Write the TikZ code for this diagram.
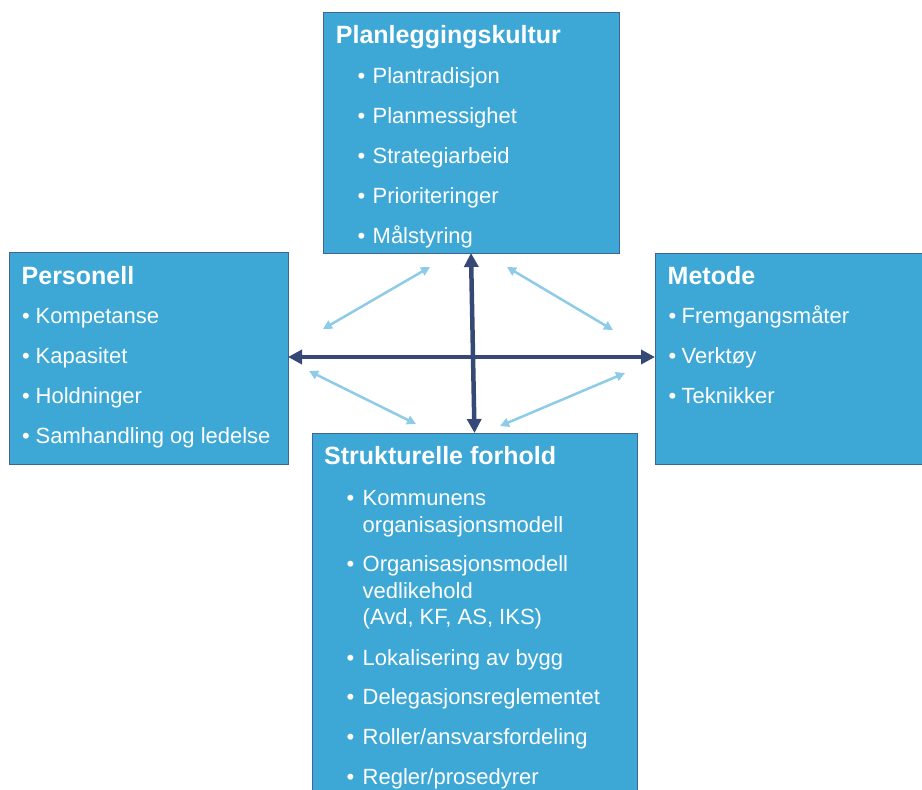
\documentclass[tikz,border=0pt]{standalone}
\usepackage{fontspec}
\setmainfont{Liberation Sans}
\usetikzlibrary{arrows.meta}
\definecolor{boxfill}{RGB}{61,168,214}
\definecolor{boxline}{RGB}{65,100,150}
\definecolor{darkarr}{RGB}{54,72,118}
\definecolor{lightarr}{RGB}{141,203,232}
\newcommand\bul[1]{\makebox[#1][l]{•}}
\begin{document}
\begin{tikzpicture}[x=1pt,y=-1pt,
 box/.style={draw=boxline, line width=1pt, fill=boxfill, inner sep=0pt, outer sep=0pt},
 ttl/.style={anchor=base west, inner sep=0pt, text=white, font=\fontsize{25}{30}\selectfont\bfseries},
 itm/.style={anchor=base west, inner sep=0pt, text=white, font=\fontsize{22}{26}\selectfont},
 bigarr/.style={draw=darkarr, line width=4.5pt, {Triangle[length=14pt,width=14pt]}-{Triangle[length=14pt,width=14pt]}},
 smallarr/.style={draw=lightarr, line width=2.5pt, {Triangle[length=9pt,width=9pt]}-{Triangle[length=9pt,width=9pt]}}]
\useasboundingbox (0,0) rectangle (922,790);
\clip (0,0) rectangle (922,790);

% boxes
\node[box, minimum width=296pt, minimum height=241pt] (plan) at (471,132.5) {};
\node[box, minimum width=279pt, minimum height=212pt] (pers) at (148.5,358) {};
\node[box, minimum width=275pt, minimum height=211pt] (met) at (792.5,358.5) {};
\node[box, minimum width=325pt, minimum height=367pt] (str) at (474.5,616.5) {};

% dark arrows
\draw[bigarr] (pers.east |- 0,357) -- (met.west |- 0,357);
\draw[bigarr] (plan.south) -- (str.north);

% light arrows
\coordinate (ula) at (430,267); \coordinate (ulb) at (323,329);
\coordinate (ura) at (507,267); \coordinate (urb) at (613,330);
\coordinate (lla) at (309,371); \coordinate (llb) at (416,424);
\coordinate (lra) at (625,373); \coordinate (lrb) at (500,426);
\draw[smallarr] (ula) -- (ulb);
\draw[smallarr] (ura) -- (urb);
\draw[smallarr] (lla) -- (llb);
\draw[smallarr] (lra) -- (lrb);

% top box text
\node[ttl] (plant) at (335.7,43) {Planleggingskultur};
\foreach \t [count=\i, evaluate=\i as \yy using 43+40*\i] in {Plantradisjon, Planmessighet, Strategiarbeid, Prioriteringer, Målstyring}
  {\node[itm] (pk\i) at (357.5,\yy) {\bul{15pt}\t};}

% left box text
\node[ttl] (perst) at (21.5,284.3) {Personell};
\foreach \t [count=\i, evaluate=\i as \yy using 283.3+40*\i] in {Kompetanse, Kapasitet, Holdninger, Samhandling og ledelse}
  {\node[itm] (pe\i) at (22,\yy) {\bul{13.5pt}\t};}

% right box text
\node[ttl] (mett) at (667.5,284) {Metode};
\foreach \t [count=\i, evaluate=\i as \yy using 283+40*\i] in {Fremgangsmåter, Verktøy, Teknikker}
  {\node[itm] (me\i) at (668.5,\yy) {\bul{13pt}\t};}

% bottom box text
\node[ttl] (strt) at (324,464.3) {Strukturelle forhold};
\node[itm] (s1) at (346.5,505) {\bul{16pt}Kommunens};
\node[itm] (s1b) at (362.5,532) {organisasjonsmodell};
\node[itm] (s2) at (346.5,571.7) {\bul{16pt}Organisasjonsmodell};
\node[itm] (s2b) at (362.5,598.3) {vedlikehold};
\node[itm] (s2c) at (362.5,624.5) {(Avd, KF, AS, IKS)};
\node[itm] (s3) at (346.5,665) {\bul{16pt}Lokalisering av bygg};
\node[itm] (s4) at (346.5,704.5) {\bul{16pt}Delegasjonsreglementet};
\node[itm] (s5) at (346.5,744) {\bul{16pt}Roller/ansvarsfordeling};
\node[itm] (s6) at (346.5,784) {\bul{16pt}Regler/prosedyrer};
\end{tikzpicture}
\end{document}
